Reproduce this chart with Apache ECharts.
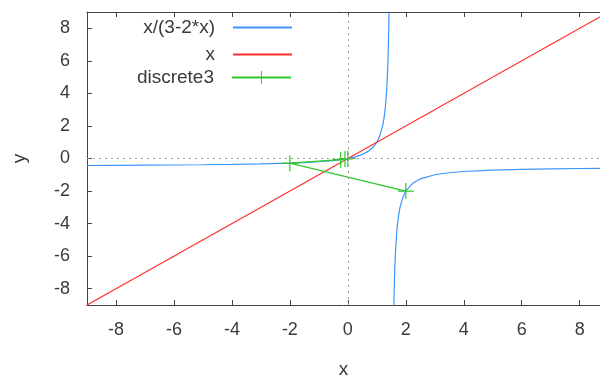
<!DOCTYPE html>
<html>
<head>
<meta charset="utf-8">
<script src="https://cdn.jsdelivr.net/npm/echarts@6/dist/echarts.min.js"></script>
<style>html,body{margin:0;padding:0;background:#fff}#c{width:600px;height:378px}</style>
</head>
<body>
<div id="c"></div>
<script>
// Series names
const seriesNames = ['x/(3-2*x)', 'x', 'discrete3'];
// Tick labels
const xTicks = [-8, -6, -4, -2, 0, 2, 4, 6, 8];
const yTicks = [-8, -6, -4, -2, 0, 2, 4, 6, 8];
// x/(3-2*x) (left branch, gap, right branch)
const curveLeft = [
  [-9, -0.429], [-8, -0.421], [-7, -0.412], [-6, -0.4], [-5, -0.385], [-4, -0.364],
  [-3, -0.333], [-2, -0.286], [-1.5, -0.25], [-1, -0.2], [-0.5, -0.125], [0, 0],
  [0.25, 0.1], [0.5, 0.25], [0.7, 0.437], [0.9, 0.75], [1.0, 1.0], [1.1, 1.375],
  [1.2, 2.0], [1.25, 2.5], [1.3, 3.25], [1.35, 4.5], [1.38, 5.75], [1.4, 7.0],
  [1.42, 8.875], [1.43, 10.2]
];
const curveRight = [
  [1.58, -9.875], [1.6, -8.0], [1.62, -6.75], [1.65, -5.5], [1.7, -4.25], [1.75, -3.5],
  [1.8, -3.0], [1.9, -2.375], [2.0, -2.0], [2.25, -1.5], [2.5, -1.25], [3, -1.0],
  [3.5, -0.875], [4, -0.8], [5, -0.714], [6, -0.667], [7, -0.636], [8, -0.615], [9, -0.6]
];
// y = x
const lineX = [[-9, -9], [9, 9]];
// discrete3 points
const discrete3 = [[0, 0], [-0.1, -0.031], [-0.25, -0.071], [-2, -0.286], [2, -2]];

const colors = ['#3a96ff', '#ff2a2a', '#2ec82e'];
const plusPath = 'path://M0,7.4H16V8.6H0Z M7.4,0H8.6V16H7.4Z';
const font = '"Liberation Sans", Arial, sans-serif';
const txt = '#3a3a3a';

const chart = echarts.init(document.getElementById('c'), null, {renderer: 'canvas'});
const legendBase = {
  orient: 'vertical', right: 303, itemWidth: 59, itemHeight: 16, align: 'right',
  textStyle: {fontFamily: font, fontSize: 19, color: txt, padding: [0, 13, 0, 0]},
  selectedMode: false
};
chart.setOption({
  animation: false,
  color: colors,
  grid: {left: 87, right: 0, top: 12, bottom: 73, outerBoundsMode: 'none', containLabel: false},
  legend: [
    Object.assign({}, legendBase, {data: [{name: seriesNames[0], icon: 'rect'}], itemHeight: 2, top: 13}),
    Object.assign({}, legendBase, {data: [{name: seriesNames[1], icon: 'rect'}], itemHeight: 2, top: 40}),
    Object.assign({}, legendBase, {data: [seriesNames[2]], top: 63})
  ],
  xAxis: [{
    type: 'value', min: -9, max: 8.7, interval: 1,
    name: 'x', nameLocation: 'middle', nameGap: 55,
    nameTextStyle: {fontFamily: font, fontSize: 19, color: txt},
    axisLine: {show: true, onZero: false, lineStyle: {color: '#444'}},
    axisTick: {show: true, inside: true, length: 5, customValues: xTicks},
    axisLabel: {fontFamily: font, fontSize: 18, color: txt, margin: 16,
      customValues: xTicks},
    splitLine: {show: false}
  }, {
    type: 'value', min: -9, max: 8.7, interval: 1, position: 'top',
    axisLine: {show: true, onZero: false, lineStyle: {color: '#444'}},
    axisTick: {show: true, inside: true, length: 5, customValues: xTicks},
    axisLabel: {show: false},
    splitLine: {show: false}
  }],
  yAxis: [{
    type: 'value', min: -9, max: 9, interval: 1,
    name: 'y', nameLocation: 'middle', nameGap: 58, nameRotate: 90,
    nameTextStyle: {fontFamily: font, fontSize: 19, color: txt},
    axisLine: {show: true, onZero: false, lineStyle: {color: '#444'}},
    axisTick: {show: true, inside: true, length: 5, customValues: yTicks},
    axisLabel: {fontFamily: font, fontSize: 18, color: txt, margin: 17,
      customValues: yTicks},
    splitLine: {show: false}
  }],
  series: [{
    name: seriesNames[0], type: 'line', symbol: 'none', connectNulls: false,
    lineStyle: {width: 1.2, color: colors[0]},
    data: curveLeft.concat([[1.5, null]], curveRight),
    markLine: {
      silent: true, symbol: 'none', label: {show: false},
      lineStyle: {type: [2, 4], color: '#999', width: 1},
      data: [{xAxis: 0}, {yAxis: 0}]
    },
    z: 2
  }, {
    name: seriesNames[1], type: 'line', symbol: 'none',
    lineStyle: {width: 1.2, color: colors[1]},
    data: lineX, z: 3
  }, {
    name: seriesNames[2], type: 'line', symbol: plusPath, symbolSize: 16, showAllSymbol: true,
    itemStyle: {color: colors[2]},
    lineStyle: {width: 1.2, color: colors[2]},
    data: discrete3, z: 4
  }]
});
</script>
</body>
</html>
